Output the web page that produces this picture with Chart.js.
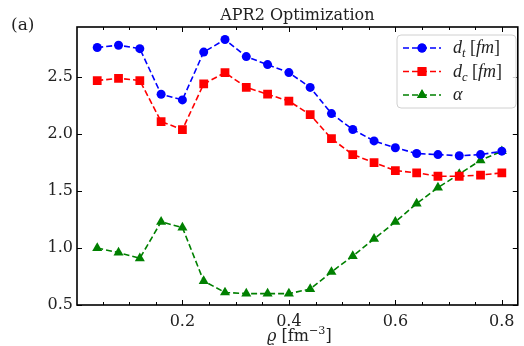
<!DOCTYPE html>
<html>
<head>
<meta charset="utf-8">
<script src="https://cdn.jsdelivr.net/npm/chart.js@4.4.1/dist/chart.umd.min.js"></script>
<style>
  html, body { margin: 0; padding: 0; background: #fff; }
  #wrap { width: 524px; height: 346px; }
</style>
</head>
<body>
<div id="wrap"><canvas id="chart"></canvas></div>
<script>
// density values (fm^-3)
const rho = [0.04, 0.08, 0.12, 0.16, 0.20, 0.24, 0.28, 0.32, 0.36, 0.40,
             0.44, 0.48, 0.52, 0.56, 0.60, 0.64, 0.68, 0.72, 0.76, 0.80];
const dt = [2.76, 2.78, 2.75, 2.35, 2.30, 2.72, 2.83, 2.68, 2.61, 2.54,
            2.41, 2.18, 2.04, 1.94, 1.88, 1.83, 1.82, 1.81, 1.82, 1.85];
const dc = [2.47, 2.49, 2.47, 2.11, 2.04, 2.44, 2.54, 2.41, 2.35, 2.29,
            2.17, 1.96, 1.82, 1.75, 1.68, 1.66, 1.63, 1.63, 1.64, 1.66];
const alpha = [1.00, 0.96, 0.91, 1.23, 1.18, 0.71, 0.61, 0.60, 0.60, 0.60,
               0.64, 0.79, 0.93, 1.08, 1.23, 1.39, 1.53, 1.65, 1.77, 1.85];
const xTicks = [0.2, 0.4, 0.6, 0.8];
const yTicks = [0.5, 1.0, 1.5, 2.0, 2.5];

const FONT = '"DejaVu Serif", "Liberation Serif", serif';
const MATH = '"Liberation Serif", "DejaVu Serif", serif';

function pts(ys) {
    return rho.map((x, i) => ({ x: x, y: ys[i] }));
}

function series(label, ys, color, style, radius) {
    return {
        label: label,
        data: pts(ys),
        borderColor: color,
        backgroundColor: color,
        borderWidth: 1.6,
        borderDash: [6, 3],
        pointStyle: style,
        pointRadius: radius,
        pointBorderWidth: 0,
        tension: 0
    };
}

// draws runs of text: [text, italic, sizeScale, yShift]
function drawRuns(ctx, runs, x, y, size, fam) {
    ctx.textBaseline = 'alphabetic';
    ctx.textAlign = 'left';
    runs.forEach(r => {
        const fs = size * (r[2] || 1);
        ctx.font = (r[1] ? 'italic ' : '') + fs + 'px ' + fam;
        ctx.fillText(r[0], x, y + (r[3] || 0));
        x += ctx.measureText(r[0]).width;
    });
}

function runsWidth(ctx, runs, size, fam) {
    let w = 0;
    runs.forEach(r => {
        ctx.font = (r[1] ? 'italic ' : '') + size * (r[2] || 1) + 'px ' + fam;
        w += ctx.measureText(r[0]).width;
    });
    return w;
}

const decorations = {
    id: 'decorations',
    afterDraw(chart) {
        const ctx = chart.ctx;
        const a = chart.chartArea;
        const xs = chart.scales.x, ys = chart.scales.y;
        ctx.save();
        ctx.strokeStyle = '#000';
        ctx.lineWidth = 1.6;
        ctx.strokeRect(a.left, a.top, a.right - a.left, a.bottom - a.top);

        // inward ticks
        ctx.lineWidth = 1;
        ctx.beginPath();
        for (let k = 1; k <= 16; k++) {
            const v = k * 0.05;
            const px = Math.round(xs.getPixelForValue(v)) + 0.5;
            const len = (k % 4 === 0) ? 5 : 3;
            ctx.moveTo(px, a.bottom); ctx.lineTo(px, a.bottom - len);
            ctx.moveTo(px, a.top); ctx.lineTo(px, a.top + len);
        }
        yTicks.forEach(v => {
            const py = Math.round(ys.getPixelForValue(v)) + 0.5;
            ctx.moveTo(a.left, py); ctx.lineTo(a.left + 5, py);
            ctx.moveTo(a.right, py); ctx.lineTo(a.right - 5, py);
        });
        ctx.stroke();

        // title and panel tag
        ctx.fillStyle = '#222';
        ctx.font = '16px ' + FONT;
        ctx.textAlign = 'center';
        ctx.textBaseline = 'alphabetic';
        ctx.fillText('APR2 Optimization', (a.left + a.right) / 2, 20);
        ctx.textAlign = 'left';
        ctx.font = '17px ' + FONT;
        ctx.fillText('(a)', 11, 30);

        // x axis label
        const xl = [['\u03F1', true], [' [fm', false], ['\u22123', false, 0.7, -7], [']', false]];
        const w = runsWidth(ctx, xl, 16, FONT);
        drawRuns(ctx, xl, (a.left + a.right) / 2 - w / 2 + 2, 341, 16, FONT);

        // legend
        const bx = 397, by = 35, bw = 119, bh = 73, r = 4;
        ctx.beginPath();
        ctx.moveTo(bx + r, by);
        ctx.arcTo(bx + bw, by, bx + bw, by + bh, r);
        ctx.arcTo(bx + bw, by + bh, bx, by + bh, r);
        ctx.arcTo(bx, by + bh, bx, by, r);
        ctx.arcTo(bx, by, bx + bw, by, r);
        ctx.closePath();
        ctx.fillStyle = 'rgba(255,255,255,0.8)';
        ctx.fill();
        ctx.strokeStyle = '#d0d0d0';
        ctx.lineWidth = 1;
        ctx.stroke();

        const rows = [
            [chart.data.datasets[0], [['d', true], ['t', true, 0.7, 4], [' [', false], ['fm', true], [']', false]]],
            [chart.data.datasets[1], [['d', true], ['c', true, 0.7, 4], [' [', false], ['fm', true], [']', false]]],
            [chart.data.datasets[2], [['\u03B1', true]]]
        ];
        rows.forEach((row, i) => {
            const ds = row[0];
            const cy = 48 + i * 23.5;
            ctx.strokeStyle = ds.borderColor;
            ctx.lineWidth = 1.6;
            ctx.setLineDash([6, 3]);
            ctx.beginPath();
            ctx.moveTo(403, cy); ctx.lineTo(441, cy);
            ctx.stroke();
            ctx.setLineDash([]);
            ctx.fillStyle = ds.backgroundColor;
            Chart.helpers.drawPoint(ctx, { pointStyle: ds.pointStyle, radius: ds.pointRadius, borderWidth: 0 }, 422, cy);
            ctx.fill();
            ctx.fillStyle = '#222';
            drawRuns(ctx, row[1], 453, cy + 5, 18, MATH);
        });
        ctx.restore();
    }
};

new Chart(document.getElementById('chart'), {
    type: 'line',
    data: {
        datasets: [
            series('dt', dt, '#0000ff', 'circle', 4.5),
            series('dc', dc, '#ff0000', 'rect', 6.2),
            series('alpha', alpha, '#008000', 'triangle', 5.8)
        ]
    },
    options: {
        responsive: true,
        maintainAspectRatio: false,
        animation: false,
        layout: { padding: { top: 27, right: 3, left: 0, bottom: 0 } },
        plugins: {
            legend: { display: false },
            title: { display: false },
            tooltip: { enabled: false }
        },
        scales: {
            x: {
                type: 'linear',
                min: 0.002,
                max: 0.83,
                afterBuildTicks: s => { s.ticks = xTicks.map(v => ({ value: v })); },
                afterFit: s => { s.height = 41; },
                grid: { display: false, drawTicks: false },
                border: { display: false },
                ticks: {
                    padding: 7,
                    color: '#222',
                    font: { family: FONT, size: 16 },
                    callback: v => v.toFixed(1)
                }
            },
            y: {
                min: 0.5,
                max: 2.94,
                afterBuildTicks: s => { s.ticks = yTicks.map(v => ({ value: v })); },
                afterFit: s => { s.width = 77; },
                grid: { display: false, drawTicks: false },
                border: { display: false },
                ticks: {
                    padding: 4,
                    color: '#222',
                    font: { family: FONT, size: 16 },
                    callback: v => v.toFixed(1)
                }
            }
        }
    },
    plugins: [decorations]
});
</script>
</body>
</html>
